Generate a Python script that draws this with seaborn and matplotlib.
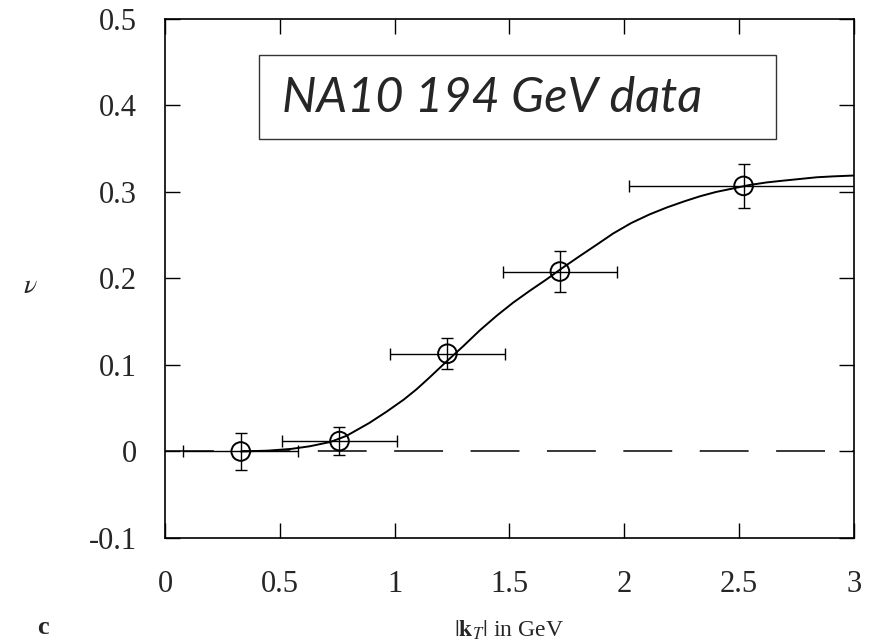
import numpy as np
import pandas as pd
import matplotlib
matplotlib.use("Agg")
import matplotlib.pyplot as plt
import seaborn as sns
from matplotlib.patches import Rectangle

# data
kt = [0.33, 0.76, 1.23, 1.72, 2.52]
nu = [0.0, 0.012, 0.113, 0.208, 0.307]
nu_err = [0.021, 0.016, 0.018, 0.024, 0.025]
kt_err = [0.25, 0.25, 0.25, 0.25, 0.5]

curve_x = [0.33, 0.45, 0.55, 0.63, 0.72, 0.79, 0.89, 0.965, 1.04, 1.096, 1.15,
           1.226, 1.30, 1.371, 1.445, 1.516, 1.59, 1.662, 1.73, 1.807, 1.88,
           1.952, 2.03, 2.11, 2.185, 2.26, 2.33, 2.40, 2.473, 2.545, 2.62,
           2.69, 2.765, 2.84, 2.91, 3.0]
curve_y = [0.0, 0.001, 0.003, 0.006, 0.011, 0.018, 0.033, 0.046, 0.060, 0.072,
           0.085, 0.104, 0.122, 0.140, 0.157, 0.172, 0.186, 0.199, 0.212, 0.226,
           0.239, 0.252, 0.264, 0.274, 0.282, 0.289, 0.295, 0.300, 0.304, 0.308,
           0.311, 0.313, 0.315, 0.317, 0.318, 0.319]

xticks = [0, 0.5, 1, 1.5, 2, 2.5, 3]
xticklabels = ["0", "0.5", "1", "1.5", "2", "2.5", "3"]
yticks = [-0.1, 0, 0.1, 0.2, 0.3, 0.4, 0.5]
yticklabels = ["-0.1", "0", "0.1", "0.2", "0.3", "0.4", "0.5"]

sns.set_theme(style="ticks")
plt.rcParams["font.family"] = ["Liberation Serif", "DejaVu Serif"]
plt.rcParams["mathtext.fontset"] = "stix"

fig = plt.figure(figsize=(8.73, 6.44), dpi=100)
ax = fig.add_axes([0.189, 0.1646, 0.789, 0.806])

# zero reference line
ax.axhline(0, color="black", lw=1.1, dashes=(32, 18), zorder=1)

# fitted curve
sns.lineplot(x=curve_x, y=curve_y, ax=ax, color="black", lw=1.4, sort=True, zorder=3)

# data points with error bars
ax.errorbar(kt, nu, xerr=kt_err, yerr=nu_err, fmt="none", ecolor="black",
            elinewidth=1.0, capsize=4, capthick=1.0, zorder=2)
df = pd.DataFrame({"kt": kt, "nu": nu})
sns.scatterplot(data=df, x="kt", y="nu", ax=ax, marker="o", s=180,
                facecolor="none", edgecolor="black", linewidth=1.4, zorder=4)

ax.set_xlim(0, 3)
ax.set_ylim(-0.1, 0.5)
ax.set_xticks(xticks)
ax.set_xticklabels(xticklabels)
ax.set_yticks(yticks)
ax.set_yticklabels(yticklabels)
ax.tick_params(axis="both", which="major", direction="in", top=True, right=True,
               length=11, width=1.0, labelsize=22, color="black")
ax.tick_params(axis="x", pad=23)
ax.tick_params(axis="y", pad=20)
for s in ax.spines.values():
    s.set_linewidth(1.2)
    s.set_color("black")

ax.set_xlabel(r"$|\mathbf{k}_T|$ in GeV", fontsize=17, va="center")
ax.xaxis.set_label_coords(0.5, -0.178)
ax.set_ylabel(r"$\nu$", fontsize=20, rotation=0, va="center", ha="center")
ax.yaxis.set_label_coords(-0.196, 0.484)

fig.text(43 / 873, 1 - 627 / 644, "c", fontsize=19, fontweight="bold",
         ha="center", va="center")

# annotation box
ax.add_patch(Rectangle((0.136, 0.769), 0.751, 0.162, transform=ax.transAxes,
                       fill=True, facecolor="white", edgecolor="#333333",
                       lw=1.0, zorder=5))
ax.text(0.170, 0.848, "NA10 194 GeV data", transform=ax.transAxes,
        fontsize=35, style="italic", family=["Lato", "DejaVu Sans"],
        ha="left", va="center", zorder=6)

fig.savefig("out.png", dpi=100)
